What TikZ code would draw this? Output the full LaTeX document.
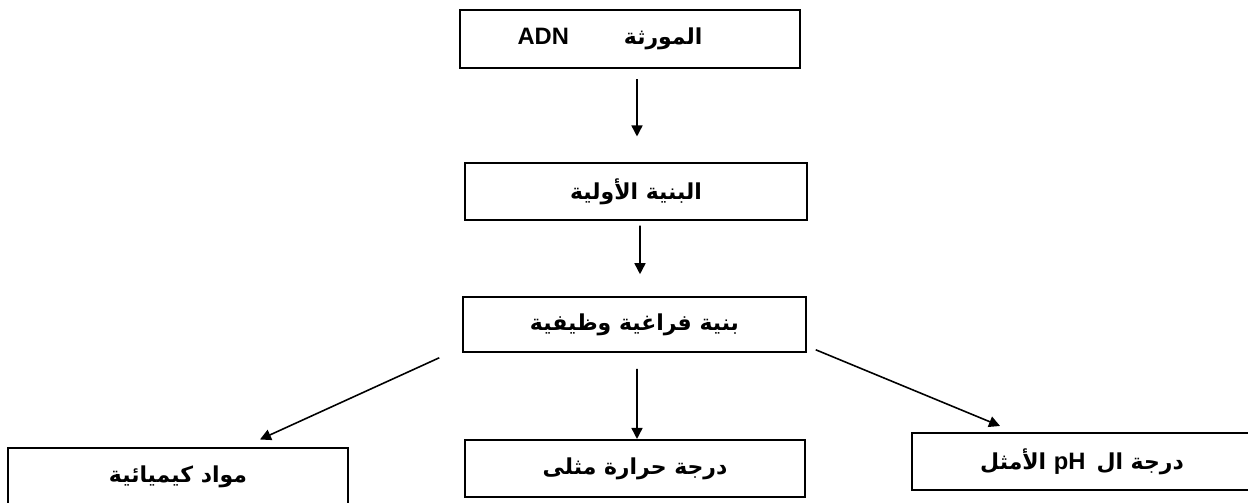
\documentclass[tikz,border=0pt]{standalone}
\usepackage{fontspec}
\setmainfont{DejaVu Sans}
\newfontfamily\arabicfont[Script=Arabic]{DejaVu Sans}
\newfontfamily\latinfont{Liberation Sans}
\TeXXeTstate=1
\usetikzlibrary{arrows.meta}

\begin{document}
\begin{tikzpicture}[x=0.02cm, y=-0.02cm, line width=0.9pt,
  box/.style={draw, minimum width=6.8cm, minimum height=1.15cm, inner sep=0pt,
    font=\arabicfont\fontsize{12.5}{15}\selectfont\bfseries},
  arr/.style={line width=0.9pt, -{Triangle[length=2.2mm,width=2.2mm]}}]

\useasboundingbox (0,0) rectangle (1248,503);

\node[box] (gene) at (630,39) {\beginR\hspace{0.8cm}المورثة\hspace{1.1cm}\beginL{\latinfont\bfseries\fontsize{13.5}{15}\selectfont ADN}\endL\endR};
\node[box, minimum width=6.84cm] (primary) at (636,191.5) {\beginR البنية الأولية\endR};
\node[box, minimum width=6.86cm, minimum height=1.1cm] (spatial) at (634.5,324.5) {\beginR بنية فراغية وظيفية\endR};

\node[box] (chem) at (178,477) {\beginR مواد كيميائية\endR};
\node[box] (temp) at (635,468.5) {\beginR درجة حرارة مثلى\endR};
\node[box] (ph) at (1082,461.5) {\beginR درجة ال\hspace{0.5em}\beginL{\latinfont\bfseries\fontsize{13.5}{15}\selectfont pH}\endL{} الأمثل\endR};

\draw[arr] ([xshift=0.14cm,yshift=-0.21cm]gene.south) -- ([xshift=0.02cm,yshift=0.51cm]primary.north);
\draw[arr] ([xshift=0.08cm,yshift=-0.09cm]primary.south) -- ([xshift=0.11cm,yshift=0.44cm]spatial.north);
\draw[arr] ([xshift=0.05cm,yshift=-0.32cm]spatial.south) -- ([xshift=0.04cm]temp.north);
\draw[arr] ([xshift=-0.46cm,yshift=-0.1cm]spatial.south west) -- ([xshift=1.64cm,yshift=0.16cm]chem.north);
\draw[arr] ([xshift=0.18cm,yshift=0.06cm]spatial.south east) -- ([xshift=-1.64cm,yshift=0.12cm]ph.north);
\end{tikzpicture}
\end{document}
